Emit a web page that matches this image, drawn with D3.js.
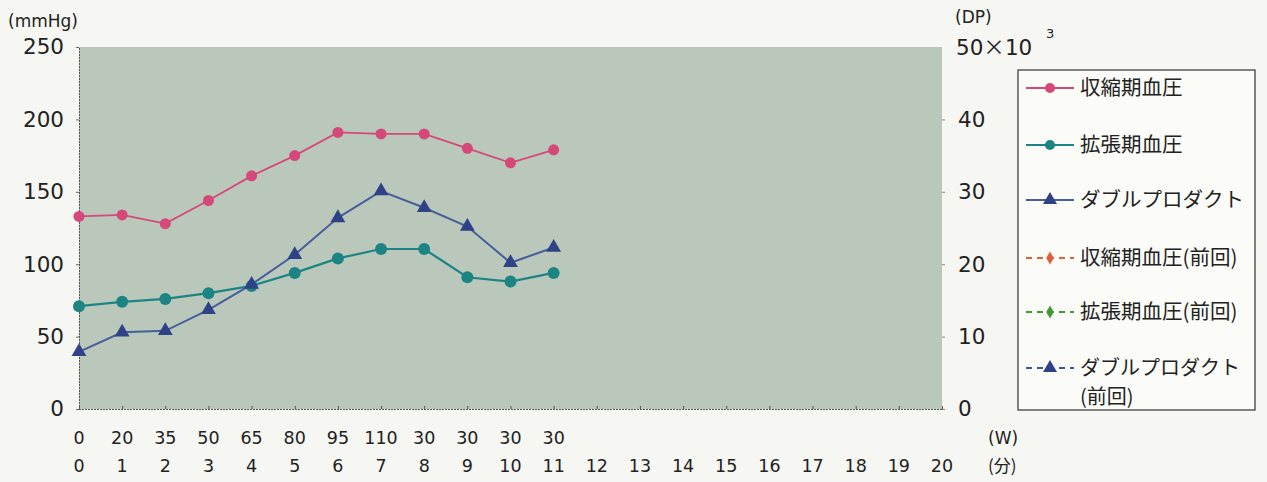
<!DOCTYPE html>
<html>
<head>
<meta charset="utf-8">
<script src="https://cdn.jsdelivr.net/npm/d3@7"></script>
<style>
  body { margin: 0; background: #f6f6f2; }
  svg text { font-family: "DejaVu Sans", "Noto Sans CJK JP", sans-serif; fill: #222; }
  svg .jp { font-family: "Noto Sans CJK JP", "Noto Sans", sans-serif; }
</style>
</head>
<body>
<svg id="chart" width="1267" height="482"></svg>
<script>
// minute index (bottom row), workload in watts (upper row)
const minutes = [0, 1, 2, 3, 4, 5, 6, 7, 8, 9, 10, 11, 12, 13, 14, 15, 16, 17, 18, 19, 20];
const watts = ["0", "20", "35", "50", "65", "80", "95", "110", "30", "30", "30", "30"];
const systolic = [133, 134, 128, 144, 161, 175, 191, 190, 190, 180, 170, 179];
const diastolic = [71, 74, 76, 80, 85, 94, 104, 110.5, 110.5, 91, 88, 94];
const doubleProduct = [7.9, 10.6, 10.8, 13.7, 17.2, 21.3, 26.4, 30.1, 27.8, 25.2, 20.2, 22.3]; // x10^3
const leftTicks = [0, 50, 100, 150, 200, 250];
const rightTicks = [0, 10, 20, 30, 40];
const legendLabels = ["収縮期血圧", "拡張期血圧", "ダブルプロダクト", "収縮期血圧(前回)", "拡張期血圧(前回)", "ダブルプロダクト"];

const svg = d3.select("#chart");
const margin = { top: 47, left: 79, right: 942, bottom: 409 };

const x = d3.scaleLinear().domain([0, 20]).range([margin.left, margin.right]);
const y = d3.scaleLinear().domain([0, 250]).range([margin.bottom, margin.top]);
const y2 = d3.scaleLinear().domain([0, 50]).range([margin.bottom, margin.top]);

// plot background
svg.append("rect")
  .attr("x", margin.left).attr("y", margin.top)
  .attr("width", margin.right - margin.left)
  .attr("height", margin.bottom - margin.top)
  .attr("fill", "#b9c8bb");

// left axis
const gl = svg.append("g")
  .attr("transform", `translate(${margin.left},0)`)
  .call(d3.axisLeft(y).tickValues(leftTicks).tickSize(3).tickPadding(12));
gl.select(".domain").attr("stroke", "#555").attr("stroke-dasharray", "2,1");
gl.selectAll("line").attr("stroke", "#666");
gl.selectAll("text").attr("font-size", 21.5).attr("fill", "#222");

// right axis
const gr = svg.append("g")
  .attr("transform", `translate(${margin.right},0)`)
  .call(d3.axisRight(y2).tickValues(rightTicks).tickSize(3).tickPadding(13));
gr.select(".domain").remove();
gr.selectAll("line").attr("stroke", "#888");
gr.selectAll("text").attr("font-size", 21.5).attr("fill", "#222");

// top right label 50x10^3
const top50 = svg.append("text").attr("x", 956).attr("y", y2(50) + 8).attr("font-size", 21.5);
top50.append("tspan").text("50");
top50.append("tspan").attr("class", "jp").text("×");
top50.append("tspan").text("10");
svg.append("text").attr("x", 1046).attr("y", 38)
  .attr("font-size", 13).text("3");

// bottom axis
const gb = svg.append("g")
  .attr("transform", `translate(0,${margin.bottom})`)
  .call(d3.axisBottom(x).tickValues(minutes).tickSize(-3).tickFormat(""));
gb.select(".domain").attr("stroke", "#555").attr("stroke-dasharray", "2,1");
gb.selectAll("line").attr("stroke", "#555");

svg.append("g").selectAll("text")
  .data(watts)
  .join("text")
  .attr("x", (d, i) => x(minutes[i]))
  .attr("y", 444)
  .attr("text-anchor", "middle")
  .attr("font-size", 17.5)
  .text(d => d);

svg.append("g").selectAll("text")
  .data(minutes)
  .join("text")
  .attr("x", d => x(d))
  .attr("y", 472)
  .attr("text-anchor", "middle")
  .attr("font-size", 17.5)
  .text(d => d);

// unit labels
svg.append("text").attr("x", 8).attr("y", 27).attr("font-size", 17).text("(mmHg)");
svg.append("text").attr("x", 955).attr("y", 23).attr("font-size", 17).text("(DP)");
svg.append("text").attr("x", 988).attr("y", 444).attr("font-size", 17).text("(W)");
svg.append("text").attr("class", "jp").attr("x", 988).attr("y", 472).attr("font-size", 17).text("(分)");

// series
const idx = d3.range(systolic.length);
const line = (scale, values) => d3.line().x(i => x(minutes[i])).y(i => scale(values[i]))(idx);

const pink = "#d6487a", teal = "#1c8584", blue = "#475e98", navy = "#2f4285";

svg.append("path").attr("d", line(y, systolic))
  .attr("fill", "none").attr("stroke", pink).attr("stroke-width", 1.8);
svg.append("path").attr("d", line(y, diastolic))
  .attr("fill", "none").attr("stroke", teal).attr("stroke-width", 2.2);
svg.append("path").attr("d", line(y2, doubleProduct))
  .attr("fill", "none").attr("stroke", blue).attr("stroke-width", 2);

svg.append("g").selectAll("circle").data(idx).join("circle")
  .attr("cx", i => x(minutes[i])).attr("cy", i => y(systolic[i]))
  .attr("r", 5.5).attr("fill", pink);
svg.append("g").selectAll("circle").data(idx).join("circle")
  .attr("cx", i => x(minutes[i])).attr("cy", i => y(diastolic[i]))
  .attr("r", 6).attr("fill", teal);
const tri = d3.symbol().type(d3.symbolTriangle).size(95);
svg.append("g").selectAll("path").data(idx).join("path")
  .attr("transform", i => `translate(${x(minutes[i])},${y2(doubleProduct[i])})`)
  .attr("d", tri).attr("fill", navy);

// legend
const lg = svg.append("g");
lg.append("rect").attr("x", 1018).attr("y", 70).attr("width", 237).attr("height", 340)
  .attr("fill", "#fbfbf8").attr("stroke", "#333").attr("stroke-width", 1.2);

const legendItems = [
  { label: legendLabels[0], color: pink, dash: null, mark: "circle", y: 88 },
  { label: legendLabels[1], color: teal, dash: null, mark: "circle", y: 145 },
  { label: legendLabels[2], color: blue, dash: null, mark: "triangle", y: 200 },
  { label: legendLabels[3], color: "#e0603c", dash: "6,5", mark: "diamond", y: 258 },
  { label: legendLabels[4], color: "#3f9a3a", dash: "6,5", mark: "diamond", y: 312 },
  { label: legendLabels[5], color: "#3b55a0", dash: "6,5", mark: "triangle", y: 368 }
];
legendItems.forEach((d, i) => {
  lg.append("line").attr("x1", 1026).attr("x2", 1074).attr("y1", d.y).attr("y2", d.y)
    .attr("stroke", d.color).attr("stroke-width", 1.8)
    .attr("stroke-dasharray", d.dash);
  let sym;
  if (d.mark === "circle") sym = d3.symbol().type(d3.symbolCircle).size(80);
  else if (d.mark === "triangle") sym = d3.symbol().type(d3.symbolTriangle).size(85);
  else sym = d3.symbol().type(d3.symbolDiamond).size(50);
  lg.append("path").attr("transform", `translate(1050,${d.y})`).attr("d", sym())
    .attr("fill", d.mark === "triangle" ? navy : d.color);
  const t = lg.append("text").attr("class", "jp").attr("x", 1080).attr("y", d.y + 7)
    .attr("font-size", 20.5).text(d.label);
  if (i === legendItems.length - 1) {
    t.attr("font-size", 20);
    t.append("tspan").attr("x", 1080).attr("dy", 29).text("(前回)");
  }
});
</script>
</body>
</html>
